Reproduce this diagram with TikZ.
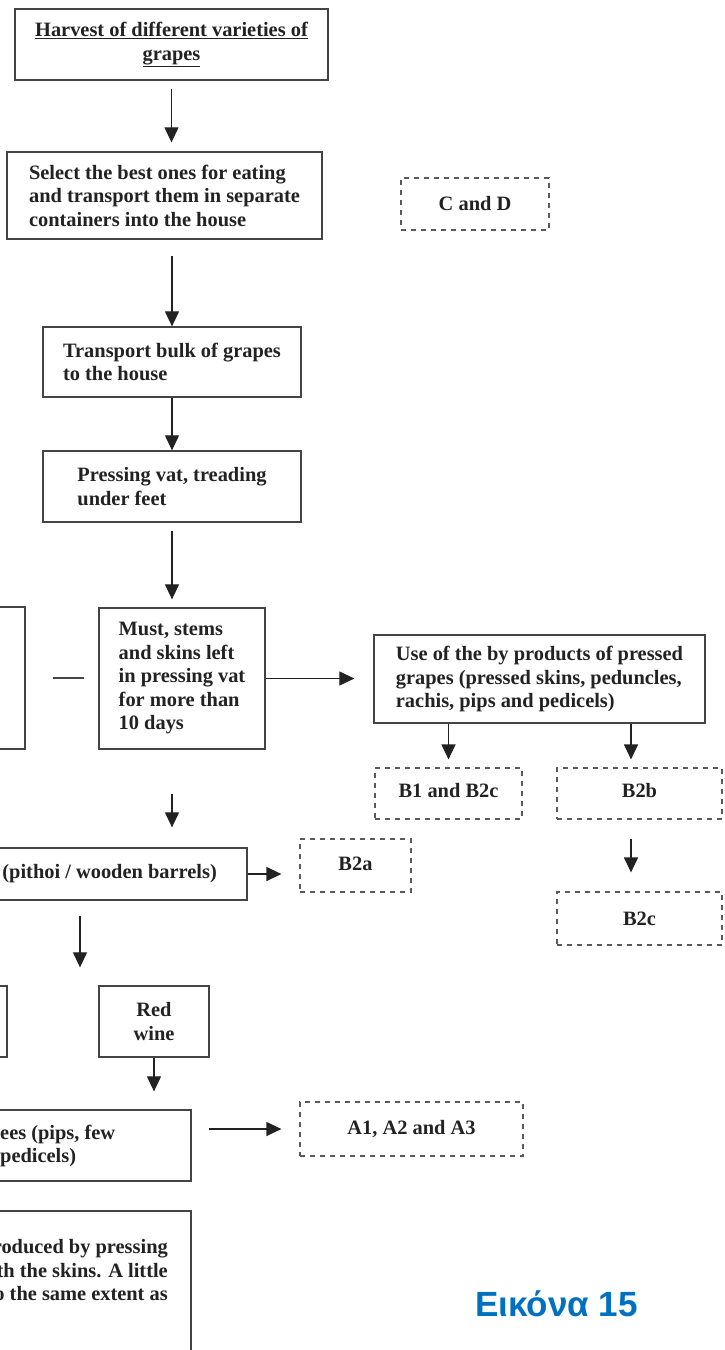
\documentclass[tikz,border=0pt]{standalone}
\usepackage{fontspec}
\setmainfont{Liberation Serif}
\newfontfamily\captfont{Liberation Sans}
\usetikzlibrary{arrows.meta}
\definecolor{ink}{HTML}{222222}
\definecolor{edge}{HTML}{444444}
\definecolor{dashc}{HTML}{5A5A5A}
\definecolor{captblue}{RGB}{0,112,192}
\tikzset{
  txt/.style={font=\bfseries\fontsize{20.4}{23.5}\selectfont, text=ink},
  solidbox/.style={draw=edge, line width=1.3pt, txt, align=left, inner sep=0pt},
  dashbox/.style={draw=dashc, line width=1.2pt, dash pattern=on 5pt off 5pt, txt, align=center, inner sep=0pt},
  arr/.style={draw=ink, line width=1.2pt, -{Triangle[width=14pt,length=15pt]}},
  plain/.style={draw=edge, line width=1.2pt},
}
\begin{document}
\begin{tikzpicture}[x=1pt,y=-1pt]
\useasboundingbox (0,0) rectangle (724,1350);
\clip (0,0) rectangle (724,1350);
\fill[white] (0,0) rectangle (724,1350);
% main column
\node[solidbox, align=center, minimum width=313pt, minimum height=71pt] (harvest) at (171.5,44.5)
  {\underline{Harvest of different varieties of}\\\underline{grapes}};
\node[solidbox, minimum width=315pt, minimum height=87pt] (select) at (164.5,195.5)
  {Select the best ones for eating\\and transport them in separate\\containers into the house};
\node[dashbox, minimum width=148pt, minimum height=52pt] (cd) at (475,204) {C and D};
\node[solidbox, minimum width=258pt, minimum height=70pt] (transport) at (172,362)
  {Transport bulk of grapes\\to the house};
\node[solidbox, minimum width=258pt, minimum height=71pt] (pressing) at (172,486.5)
  {Pressing vat, treading\\under feet};
\node[solidbox, minimum width=166pt, minimum height=141pt] (must) at (182,678.5)
  {Must, stems\\and skins left\\in pressing vat\\for more than\\10 days};
\node[solidbox, minimum width=125pt, minimum height=142pt] (leftbox) at (-37.5,678) {};
\node[solidbox, minimum width=331pt, minimum height=88pt] (use) at (539.5,679)
  {Use of the by products of pressed\\grapes (pressed skins, peduncles,\\rachis, pips and pedicels)};
\node[dashbox, minimum width=147pt, minimum height=51pt] (b1) at (448.5,793.5) {\raisebox{7pt}{B1 and B2c}};
\node[dashbox, minimum width=165pt, minimum height=51pt] (b2b) at (639.5,793.5) {\raisebox{7pt}{B2b}};
\node[dashbox, minimum width=165pt, minimum height=53pt] (b2c) at (639.5,918.5) {B2c};
\node[solidbox, minimum width=320pt, minimum height=52pt] (pithoi) at (87,874) {};
\node[txt, anchor=east, inner sep=0pt] (pithoiT) at (217,874) {(pithoi / wooden barrels)};
\node[dashbox, minimum width=111pt, minimum height=53pt] (b2a) at (355.5,865.5) {\raisebox{3pt}{B2a}};
\node[solidbox, minimum width=107pt, minimum height=71pt] (redleft) at (-46.5,1021.5) {};
\node[solidbox, align=center, minimum width=110pt, minimum height=71pt] (red) at (154,1021.5) {Red\\wine};
\node[solidbox, minimum width=341pt, minimum height=71pt] (lees) at (20.5,1145.5) {};
\node[txt, anchor=west, align=left, inner sep=0pt] (leesT) at (0,1146) {ees (pips, few\\pedicels)};
\node[dashbox, minimum width=223pt, minimum height=54pt] (a1) at (411.5,1129) {A1, A2 and A3};
\node[solidbox, minimum width=391pt, minimum height=189pt] (bottom) at (-4.5,1305.5) {};
\node[txt, anchor=east, align=right, inner sep=0pt] (bottomT) at (168,1270.5)
  {roduced by pressing\\th the skins. A little\\o the same extent as};
\node[anchor=base west, inner sep=0pt, text=captblue, font=\captfont\bfseries\fontsize{35}{40}\selectfont] (capt) at (475,1316) {Εικόνα 15};
% connectors
\draw[arr, shorten <=8pt, shorten >=9pt] (harvest.south) -- (harvest.south |- select.north);
\draw[arr, shorten <=16pt] (transport.north |- select.south) -- (transport.north);
\draw[arr] (transport.south) -- (pressing.north);
\draw[arr, shorten <=8pt, shorten >=8pt] (pressing.south) -- (pressing.south |- must.north);
\draw[arr, shorten >=19pt] (must.east) -- (must.east -| use.west);
\draw[arr, shorten >=8pt] (b1.north |- use.south) -- (b1.north);
\draw[arr, shorten >=8pt] ([xshift=-8.5pt]b2b.north |- use.south) -- ([xshift=-8.5pt]b2b.north);
\draw[arr, shorten <=19pt, shorten >=19pt] ([xshift=-8.5pt]b2b.south) -- ([xshift=-8.5pt]b2c.north);
\draw[plain, shorten <=27pt, shorten >=14pt] (leftbox.east) -- (leftbox.east -| must.west);
\draw[arr, shorten <=44pt, shorten >=20pt] ([xshift=-10pt]must.south) -- ([xshift=-10pt]must.south |- pithoi.north);
\draw[arr, shorten >=18pt] (pithoi.east) -- (pithoi.east -| b2a.west);
\draw[arr, shorten <=15pt, shorten >=18pt] ([xshift=-7pt]pithoi.south) -- ([xshift=-7pt]pithoi.south |- red.north);
\draw[arr, shorten >=18pt] (red.south) -- (red.south |- lees.north);
\draw[arr, shorten <=17pt, shorten >=18pt] (a1.west -| lees.east) -- (a1.west);
\end{tikzpicture}
\end{document}
